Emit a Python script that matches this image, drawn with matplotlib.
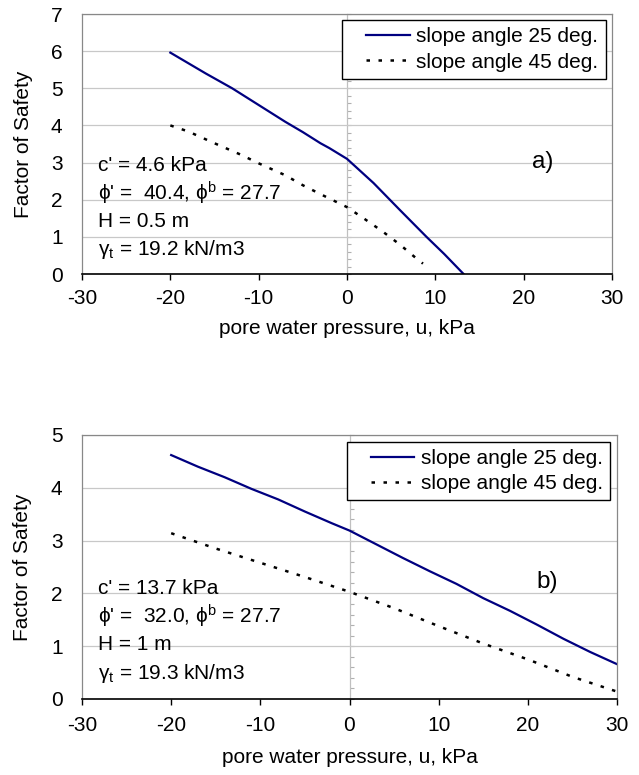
import numpy as np
import matplotlib
matplotlib.use("Agg")
import matplotlib.pyplot as plt
from matplotlib.legend_handler import HandlerLine2D

plt.rcParams['font.family'] = ['Liberation Sans', 'DejaVu Sans']
plt.rcParams['mathtext.fontset'] = 'custom'
plt.rcParams['mathtext.rm'] = 'Liberation Sans'
plt.rcParams['mathtext.it'] = 'Liberation Sans:italic'
plt.rcParams['axes.unicode_minus'] = False

# panel a) -- H = 0.5 m
u_a25 = [-20, -16, -13, -10, -7, -5, -3, -2, 0, 3, 6, 9, 11, 13.2]
fs_a25 = [5.96, 5.40, 5.00, 4.55, 4.10, 3.82, 3.52, 3.39, 3.10, 2.45, 1.72, 1.00, 0.54, 0.0]
u_a45 = [-20, -18, -15, -12, -10, -7, -5, -3, 0, 2, 4, 6, 8, 8.6]
fs_a45 = [4.00, 3.84, 3.52, 3.21, 2.98, 2.66, 2.39, 2.15, 1.80, 1.48, 1.15, 0.79, 0.39, 0.28]

# panel b) -- H = 1 m
u_b25 = [-20, -17, -14, -11, -8, -5, -2, 0, 3, 6, 9, 12, 15, 18, 21, 24, 27, 30]
fs_b25 = [4.62, 4.40, 4.20, 3.98, 3.78, 3.55, 3.33, 3.19, 2.93, 2.67, 2.42, 2.18,
          1.91, 1.67, 1.41, 1.14, 0.89, 0.66]
u_b45 = [-20, -15, -10, -5, 0, 5, 10, 15, 20, 25, 30]
fs_b45 = [3.14, 2.85, 2.58, 2.31, 2.03, 1.72, 1.38, 1.05, 0.75, 0.42, 0.14]

labels = ['slope angle 25 deg.', 'slope angle 45 deg.']
params_a = ["c' = 4.6 kPa", "\u03d5' =  40.4, \u03d5$^{\\mathrm{b}}$ = 27.7",
            "H = 0.5 m", "\u03b3$_{\\mathrm{t}}$ = 19.2 kN/m3"]
params_b = ["c' = 13.7 kPa", "\u03d5' =  32.0, \u03d5$^{\\mathrm{b}}$ = 27.7",
            "H = 1 m", "\u03b3$_{\\mathrm{t}}$ = 19.3 kN/m3"]

FS = 15
NAVY = '#000080'
GRID = '#c8c8c8'

fig = plt.figure(figsize=(6.39, 7.75), dpi=100)


def panel(rect, u25, f25, u45, f45, ymax, params, tag, tagpos, legpos, parpos):
    ax = fig.add_axes(rect)
    ax.plot(u25, f25, color=NAVY, lw=1.6, label=labels[0])
    ax.plot(u45, f45, color='black', lw=1.8, linestyle=(0, (1.4, 3.4)), label=labels[1])
    ax.set_xlim(-30, 30)
    ax.set_ylim(0, ymax)
    ax.set_xticks(np.arange(-30, 31, 10))
    ax.set_yticks(np.arange(0, ymax + 1, 1))
    ax.yaxis.grid(True, color=GRID, lw=0.9)
    ax.set_axisbelow(True)
    for s in ['left', 'top', 'right']:
        ax.spines[s].set_color('#888888')
        ax.spines[s].set_linewidth(0.9)
    ax.spines['bottom'].set_color('black')
    ax.spines['bottom'].set_linewidth(1.2)
    ax.tick_params(axis='x', direction='out', length=4.5, width=1, pad=parpos[3], labelsize=FS)
    ax.tick_params(axis='y', length=0, pad=14, labelsize=FS)

    # gray axis through u = 0 with small ticks
    sec = ax.secondary_yaxis(0.5)
    sec.set_yticks(np.arange(0, ymax + 0.01, 0.2))
    sec.tick_params(length=3, width=0.8, color='#b0b0b0', labelright=False, labelleft=False)
    for s in sec.spines.values():
        s.set_color('#c0c0c0')
        s.set_linewidth(0.9)

    ax.set_ylabel('Factor of Safety', fontsize=FS)
    ax.yaxis.set_label_coords(-0.093, 0.5)
    ax.set_xlabel('pore water pressure, u, kPa', fontsize=FS)
    ax.xaxis.set_label_coords(0.5, parpos[2])

    leg = ax.legend(loc='upper right', bbox_to_anchor=legpos, borderaxespad=0,
                    fontsize=FS, frameon=True, fancybox=False, framealpha=1,
                    edgecolor='black', handlelength=2.9, handletextpad=0.3,
                    borderpad=0.35, labelspacing=0.3,
                    handler_map={plt.Line2D: HandlerLine2D(xpad=0.8)})
    leg.get_frame().set_linewidth(1.0)

    for i, t in enumerate(params):
        ax.text(0.030, parpos[0] - i * parpos[1], t, transform=ax.transAxes,
                fontsize=FS, va='center', ha='left')
    ax.text(tagpos[0], tagpos[1], tag, transform=ax.transAxes, fontsize=17.5,
            va='center', ha='center')
    return ax


panel([82 / 639, 1 - 274 / 775, 530 / 639, 260 / 775],
      u_a25, fs_a25, u_a45, fs_a45, 7, params_a, 'a)', (0.8685, 0.432),
      (0.988, 0.977), (0.4165, 0.108, -0.175, 6))
panel([82 / 639, 1 - 699 / 775, 535 / 639, 264 / 775],
      u_b25, fs_b25, u_b45, fs_b45, 5, params_b, 'b)', (0.870, 0.444),
      (0.987, 0.975), (0.419, 0.107, -0.185, 8))

fig.savefig('out.png', dpi=100)
